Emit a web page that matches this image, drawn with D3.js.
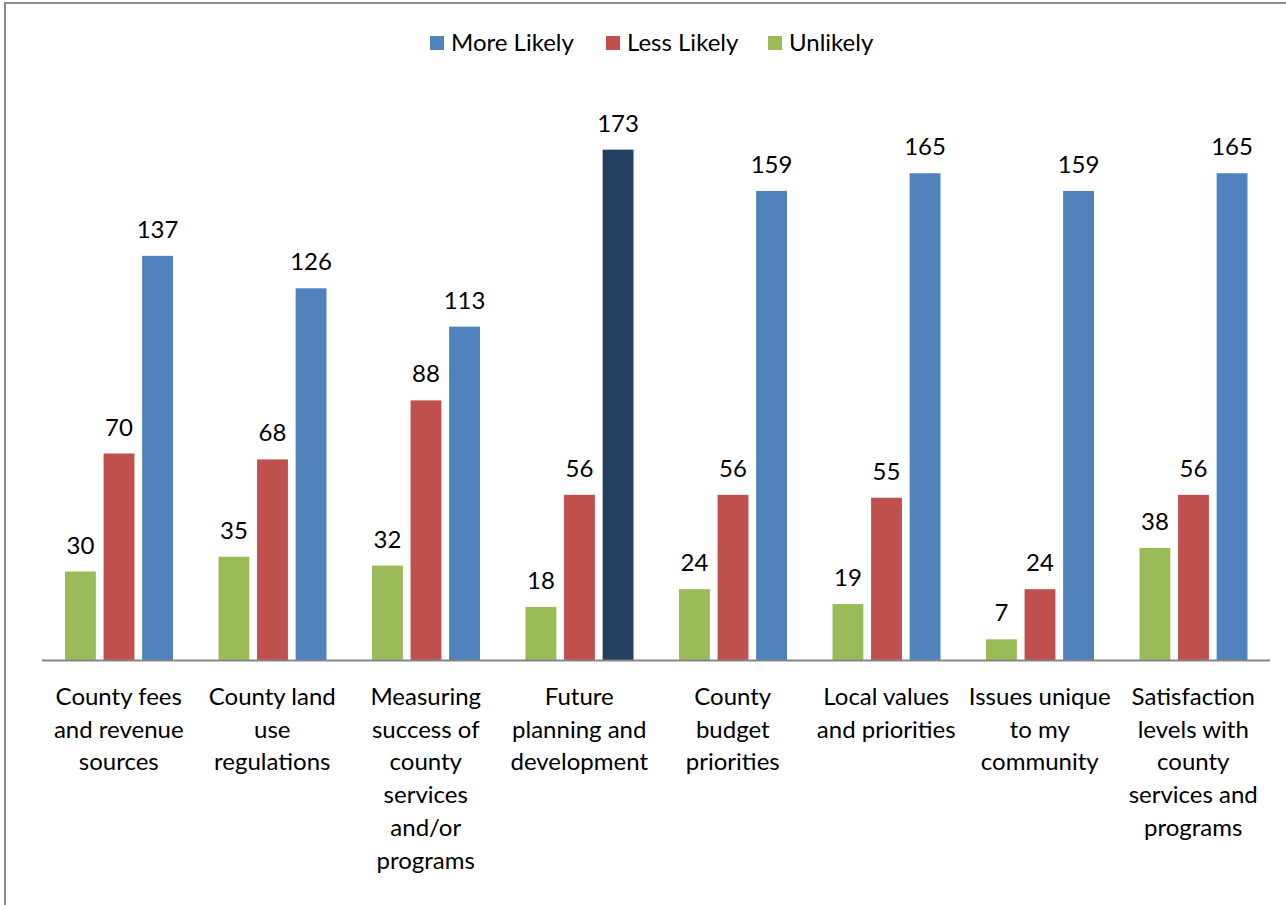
<!DOCTYPE html>
<html>
<head>
<meta charset="utf-8">
<script src="https://cdn.jsdelivr.net/npm/d3@7"></script>
<style>
  body { margin: 0; background: #fff; }
  svg { display: block; font-family: Lato, "Open Sans", sans-serif; }
</style>
</head>
<body>
<svg id="chart" width="1286" height="905"></svg>
<script>
// categories, wrapped the same way as the original labels
var categories = [
    ["County fees", "and revenue", "sources"],
    ["County land", "use", "regulations"],
    ["Measuring", "success of", "county", "services", "and/or", "programs"],
    ["Future", "planning and", "development"],
    ["County", "budget", "priorities"],
    ["Local values", "and priorities"],
    ["Issues unique", "to my", "community"],
    ["Satisfaction", "levels with", "county", "services and", "programs"]
];
var seriesNames = ["Unlikely", "Less Likely", "More Likely"];
var unlikely   = [30, 35, 32, 18, 24, 19, 7, 38];
var lessLikely = [70, 68, 88, 56, 56, 55, 24, 56];
var moreLikely = [137, 126, 113, 173, 159, 165, 159, 165];
var legendOrder = ["More Likely", "Less Likely", "Unlikely"];

var colors = { "Unlikely": "#9bbb59", "Less Likely": "#c0504d", "More Likely": "#4f81bd" };
var highlight = "#254061"; // the darker "Future planning" bar

var svg = d3.select("#chart");

// outer frame of the chart
svg.append("rect")
    .attr("x", 5).attr("y", 3)
    .attr("width", 1300).attr("height", 920)
    .style("fill", "none")
    .style("stroke", "#8c8c8c")
    .style("stroke-width", 2);

var plotLeft = 42, plotRight = 1270, plotTop = 70, plotBase = 660;

var x0 = d3.scaleBand()
    .domain(d3.range(categories.length))
    .range([plotLeft, plotRight]);

var x1 = d3.scaleBand()
    .domain(seriesNames)
    .range([23, 131])
    .paddingInner(0.2);

var y = d3.scaleLinear().domain([0, 200]).range([plotBase, plotTop]);

var values = { "Unlikely": unlikely, "Less Likely": lessLikely, "More Likely": moreLikely };

var groups = svg.selectAll("g.cat")
    .data(d3.range(categories.length))
    .enter()
    .append("g")
    .attr("class", "cat")
    .attr("transform", i => "translate(" + x0(i) + ",0)");

seriesNames.forEach(function (s) {
    groups.append("rect")
        .attr("x", x1(s))
        .attr("y", i => y(values[s][i]))
        .attr("width", x1.bandwidth())
        .attr("height", i => plotBase - y(values[s][i]))
        .style("fill", i => (s === "More Likely" && i === 3) ? highlight : colors[s]);

    groups.append("text")
        .attr("x", x1(s) + x1.bandwidth() / 2)
        .attr("y", i => y(values[s][i]) - 18)
        .attr("text-anchor", "middle")
        .style("font-size", "24px")
        .style("fill", "#000")
        .text(i => values[s][i]);
});

// category axis
svg.append("line")
    .attr("x1", plotLeft).attr("x2", plotRight)
    .attr("y1", plotBase + 0.5).attr("y2", plotBase + 0.5)
    .style("stroke", "#868686")
    .style("stroke-width", 2);

groups.append("text")
    .attr("text-anchor", "middle")
    .style("font-size", "24px")
    .style("fill", "#000")
    .each(function (i) {
        var t = d3.select(this);
        categories[i].forEach(function (line, k) {
            t.append("tspan")
                .attr("x", x0.bandwidth() / 2)
                .attr("y", 705 + k * 32.7)
                .text(line);
        });
    });

// legend
var legendX = [430, 606, 768];
var legend = svg.selectAll("g.legend")
    .data(legendOrder)
    .enter()
    .append("g")
    .attr("class", "legend")
    .attr("transform", (d, i) => "translate(" + legendX[i] + ",36)");

legend.append("rect")
    .attr("width", 14).attr("height", 14)
    .style("fill", d => colors[d]);

legend.append("text")
    .attr("x", 21).attr("y", 15)
    .style("font-size", "24px")
    .style("fill", "#000")
    .text(d => d);
</script>
</body>
</html>
